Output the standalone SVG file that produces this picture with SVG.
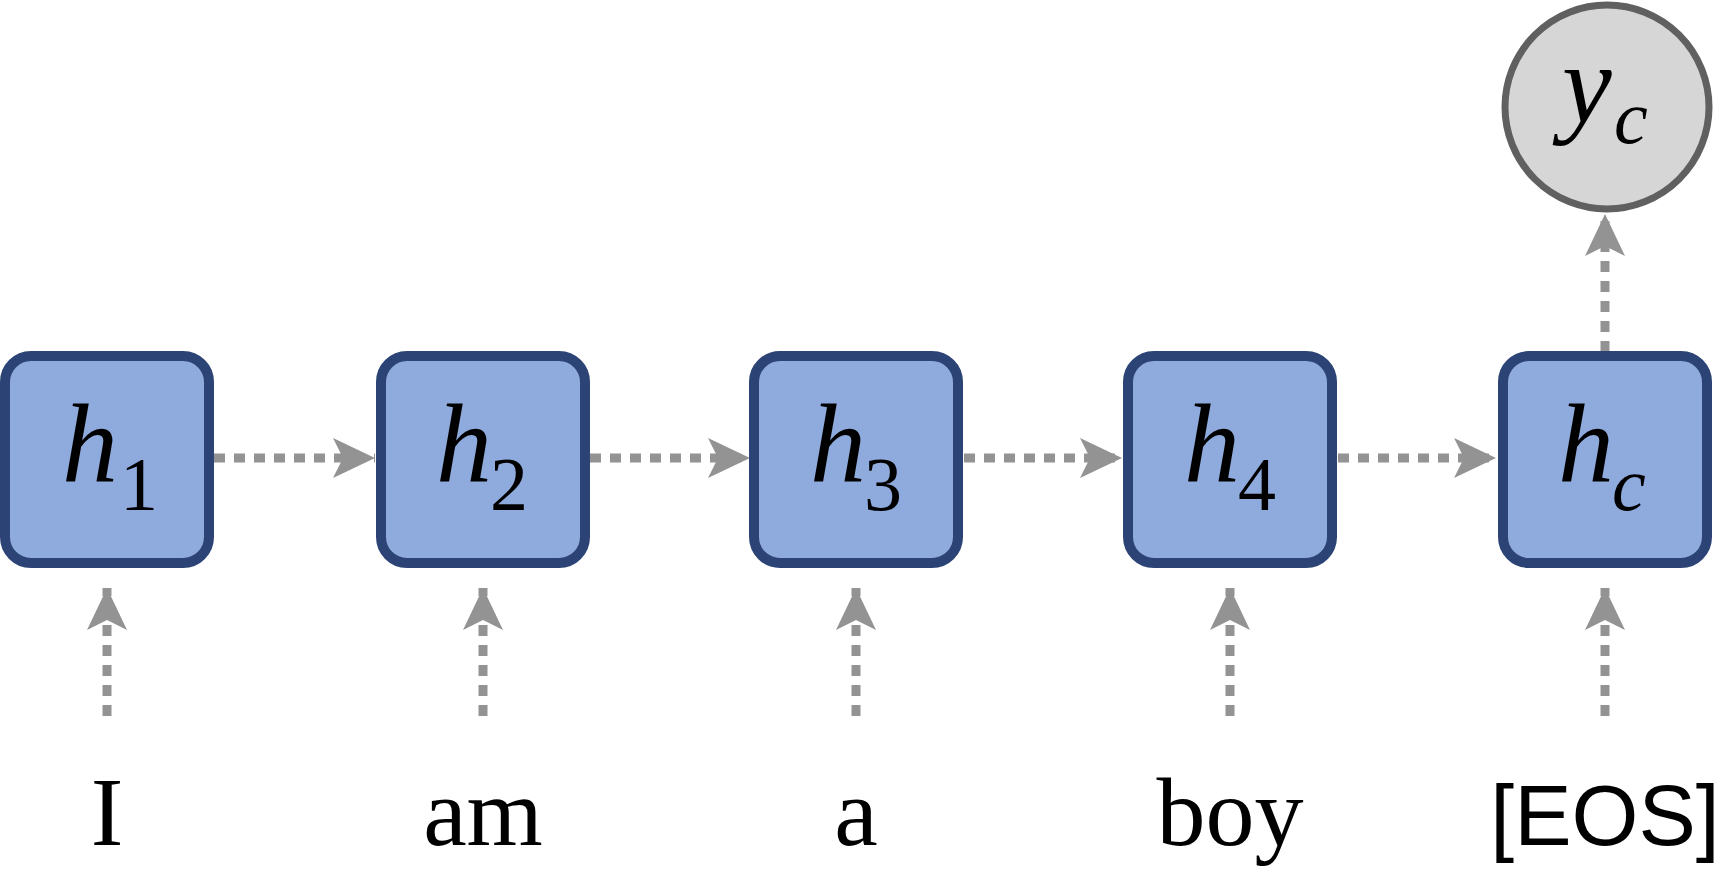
<svg xmlns="http://www.w3.org/2000/svg" width="1722" height="874" viewBox="0 0 1722 874">
<style>
.box{fill:#8faadc;stroke:#2c4375;stroke-width:10}
.c{stroke:#939393;stroke-width:9;stroke-dasharray:11 9;fill:none}
.m{font-family:"Liberation Serif",serif;font-style:italic;fill:#000}
.w{font-family:"Liberation Serif",serif;font-size:98px;fill:#000;text-anchor:middle}
</style>
<defs>
<marker id="a" markerUnits="userSpaceOnUse" markerWidth="44" markerHeight="44" viewBox="0 0 44 44" refX="42" refY="22" orient="auto">
<path d="M0,2 L42,22 L0,42 L10,22 Z" fill="#939393"/>
</marker>
</defs>
<rect width="1722" height="874" fill="#fff"/>
<g id="connectors">
<line class="c" x1="214" y1="458" x2="375" y2="458" marker-end="url(#a)"/>
<line class="c" x1="590" y1="458" x2="750" y2="458" marker-end="url(#a)"/>
<line class="c" x1="964" y1="458" x2="1122" y2="458" marker-end="url(#a)"/>
<line class="c" x1="1338" y1="458" x2="1496" y2="458" marker-end="url(#a)"/>
<line class="c" x1="107" y1="716" x2="107" y2="588" marker-end="url(#a)"/>
<line class="c" x1="483" y1="716" x2="483" y2="588" marker-end="url(#a)"/>
<line class="c" x1="856" y1="716" x2="856" y2="588" marker-end="url(#a)"/>
<line class="c" x1="1230" y1="716" x2="1230" y2="588" marker-end="url(#a)"/>
<line class="c" x1="1605" y1="716" x2="1605" y2="588" marker-end="url(#a)"/>
<line class="c" x1="1605" y1="352" x2="1605" y2="214" marker-end="url(#a)"/>
</g>
<g id="h1"><rect class="box" x="5" y="356" width="204" height="207" rx="26"/><text class="m" x="62" y="482" font-size="112">h</text><text x="120" y="510" font-family="Liberation Serif,serif" font-size="76">1</text></g>
<g id="h2"><rect class="box" x="381" y="356" width="204" height="207" rx="26"/><text class="m" x="436" y="482" font-size="112">h</text><text x="490" y="510" font-family="Liberation Serif,serif" font-size="76">2</text></g>
<g id="h3"><rect class="box" x="754" y="356" width="204" height="207" rx="26"/><text class="m" x="810" y="482" font-size="112">h</text><text x="864" y="510" font-family="Liberation Serif,serif" font-size="76">3</text></g>
<g id="h4"><rect class="box" x="1128" y="356" width="204" height="207" rx="26"/><text class="m" x="1184" y="482" font-size="112">h</text><text x="1238" y="510" font-family="Liberation Serif,serif" font-size="76">4</text></g>
<g id="hc"><rect class="box" x="1503" y="356" width="204" height="207" rx="26"/><text class="m" x="1558" y="482" font-size="112">h</text><text class="m" x="1612" y="510" font-size="76">c</text></g>
<g id="yc"><circle cx="1607" cy="107" r="102" fill="#d6d6d6" stroke="#606060" stroke-width="7"/><text class="m" x="1562" y="122" font-size="112">y</text><text class="m" x="1614" y="143" font-size="76">c</text></g>
<g id="words">
<text class="w" x="107" y="845">I</text>
<text class="w" x="483" y="845">am</text>
<text class="w" x="856" y="845">a</text>
<text class="w" x="1230" y="845">boy</text>
<text x="1605" y="845" font-family="Liberation Sans,sans-serif" font-size="86" text-anchor="middle">[EOS]</text>
</g>
</svg>
